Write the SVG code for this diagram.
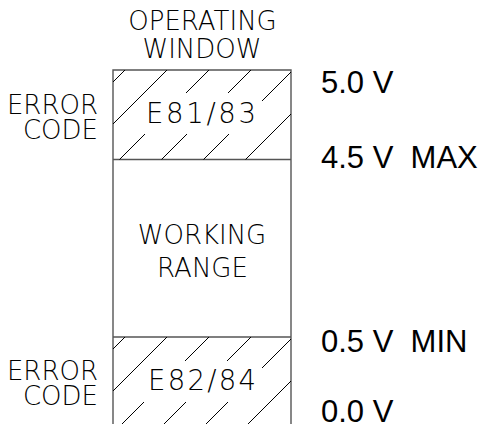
<svg xmlns="http://www.w3.org/2000/svg" width="487" height="425" viewBox="0 0 487 425">
<style>
.lbl{font-family:"DejaVu Sans","Liberation Sans",sans-serif;font-weight:200;font-size:26px;fill:#000}
.code{font-size:27.5px}
.volt{font-family:"Liberation Sans",Arial,sans-serif;font-size:31px;fill:#000}
.box{fill:none;stroke:#555;stroke-width:1.4}
.hatch{fill:none;stroke:#000;stroke-width:1}
</style>
<rect width="487" height="425" fill="#fff"/>
<g id="title">
<text class="lbl" x="202.5" y="30" text-anchor="middle">OPERATING</text>
<text class="lbl" x="202" y="58" text-anchor="middle">WINDOW</text>
</g>
<g id="frame">
<path class="box" d="M113,424 V70 H291 V424 M113,159.5 H291 M113,337 H291"/>
</g>
<g id="error-high">
<path class="hatch" d="M125,70 L113,82 M167,70 L113,124 M209,70 L186,93 M145,134 L119.5,159.5 M251,70 L228,93 M187,134 L161.5,159.5 M291,72 L262,101 M229,134 L203.5,159.5 M291,114 L245.5,159.5"/>
<text class="lbl code" x="201" y="123" text-anchor="middle" textLength="110" lengthAdjust="spacing">E81/83</text>
</g>
<g id="working-range">
<text class="lbl" x="202" y="244" text-anchor="middle">WORKING</text>
<text class="lbl" x="202.5" y="277" text-anchor="middle">RANGE</text>
</g>
<g id="error-low">
<path class="hatch" d="M125,337 L113,349 M167,337 L113,391 M209,337 L185,361 M144,402 L122,424 M251,337 L227,361 M186,402 L164,424 M291,339 L262,368 M228,402 L206,424 M291,381 L248,424"/>
<text class="lbl code" x="202" y="390" text-anchor="middle" textLength="108" lengthAdjust="spacing">E82/84</text>
</g>
<g id="error-labels">
<text class="lbl" x="98" y="114" text-anchor="end">ERROR</text>
<text class="lbl" x="98" y="139" text-anchor="end">CODE</text>
<text class="lbl" x="98" y="380" text-anchor="end">ERROR</text>
<text class="lbl" x="98" y="405" text-anchor="end">CODE</text>
</g>
<g id="voltages">
<text class="volt" x="321" y="93">5.0 V</text>
<text class="volt" x="321" y="168" xml:space="preserve">4.5 V  MAX</text>
<text class="volt" x="321" y="352" xml:space="preserve">0.5 V  MIN</text>
<text class="volt" x="321" y="422">0.0 V</text>
</g>
</svg>
